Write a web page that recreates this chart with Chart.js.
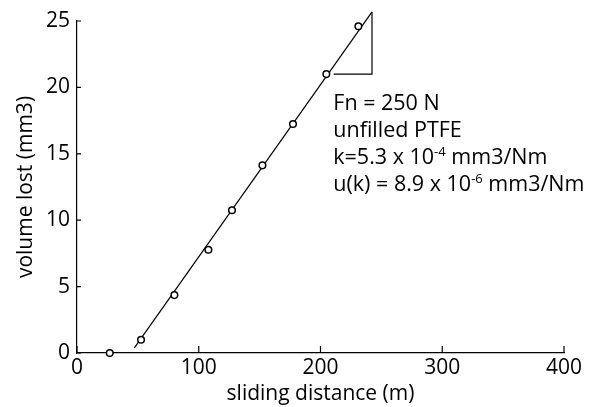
<!DOCTYPE html>
<html>
<head>
<meta charset="utf-8">
<script src="https://cdn.jsdelivr.net/npm/chart.js@4"></script>
<style>
html, body { margin: 0; padding: 0; background: #fff; }
#wrap { width: 606px; height: 407px; }
</style>
</head>
<body>
<div id="wrap"><canvas id="wearChart"></canvas></div>
<script>
// measured points (sliding distance m, volume lost mm3)
const distance = [26.9, 52.6, 80.0, 107.9, 127.3, 152.3, 177.4, 204.8, 231.1];
const volumeLost = [0.0, 1.0, 4.36, 7.77, 10.75, 14.13, 17.24, 21.0, 24.6];
// fitted line ends and slope triangle corners
const fitDistance = [47.1, 242.3];
const fitVolume = [0.38, 25.68];
const slopeDistance = [210.8, 242.3, 242.3];
const slopeVolume = [21.0, 21.0, 25.68];
const xTicks = [0, 100, 200, 300, 400];
const yTicks = [0, 5, 10, 15, 20, 25];
// annotation: [text, superscript?]
const noteLines = [
    [['Fn = 250 N', false]],
    [['unfilled PTFE', false]],
    [['k=5.3 x 10', false], ['-4', true], [' mm3/Nm', false]],
    [['u(k) = 8.9 x 10', false], ['-6', true], [' mm3/Nm', false]]
];
const noteAt = { x: 210.5, y: 18.3 };

const toPoints = (xs, ys) => xs.map((v, i) => ({ x: v, y: ys[i] }));

Chart.defaults.font.family = "'Open Sans', sans-serif";
Chart.defaults.color = '#000';

const innerTicks = {
    id: 'innerTicks',
    afterDraw(chart) {
        const { ctx, chartArea, scales: { x, y } } = chart;
        ctx.save();
        ctx.strokeStyle = '#000';
        ctx.lineWidth = 1.2;
        ctx.beginPath();
        xTicks.forEach(v => {
            const px = x.getPixelForValue(v);
            ctx.moveTo(px, chartArea.bottom);
            ctx.lineTo(px, chartArea.bottom - 7);
        });
        yTicks.forEach(v => {
            const py = y.getPixelForValue(v);
            ctx.moveTo(chartArea.left, py);
            ctx.lineTo(chartArea.left + 4, py);
        });
        ctx.stroke();

        // annotation text
        const big = "21.5px 'Open Sans', sans-serif";
        const small = "13px 'Open Sans', sans-serif";
        let baseY = y.getPixelForValue(noteAt.y);
        const startX = x.getPixelForValue(noteAt.x);
        ctx.fillStyle = '#000';
        ctx.textBaseline = 'alphabetic';
        ctx.textAlign = 'left';
        noteLines.forEach(line => {
            let cx = startX;
            line.forEach(([txt, sup]) => {
                ctx.font = sup ? small : big;
                ctx.fillText(txt, cx, sup ? baseY - 8 : baseY);
                cx += ctx.measureText(txt).width;
            });
            baseY += 27;
        });
        ctx.restore();
    }
};

new Chart(document.getElementById('wearChart'), {
    type: 'scatter',
    data: {
        datasets: [{
            label: 'measured',
            data: toPoints(distance, volumeLost),
            pointStyle: 'circle',
            pointRadius: 3.3,
            pointBorderWidth: 1.5,
            pointBackgroundColor: '#fff',
            pointBorderColor: '#000',
            showLine: false,
            clip: false
        }, {
            label: 'fit',
            data: toPoints(fitDistance, fitVolume),
            showLine: true,
            borderColor: '#000',
            borderWidth: 1.2,
            pointRadius: 0,
            clip: false
        }, {
            label: 'slope',
            data: toPoints(slopeDistance, slopeVolume),
            showLine: true,
            borderColor: '#000',
            borderWidth: 1.2,
            pointRadius: 0,
            clip: false
        }]
    },
    options: {
        responsive: true,
        maintainAspectRatio: false,
        animation: false,
        layout: { padding: { left: 0, right: 42, top: 21, bottom: 0 } },
        plugins: {
            legend: { display: false },
            tooltip: { enabled: false }
        },
        scales: {
            x: {
                type: 'linear',
                min: 0,
                max: 400,
                afterFit: s => { s.height = 54; },
                ticks: { stepSize: 100, padding: 2, font: { size: 21 }, color: '#000' },
                grid: { drawOnChartArea: false, drawTicks: false },
                border: { color: '#000', width: 1.2 },
                title: { display: true, text: 'sliding distance (m)', font: { size: 21 }, color: '#000', padding: { top: 0, bottom: 0 } }
            },
            y: {
                type: 'linear',
                min: 0,
                max: 25,
                afterFit: s => { s.width = 77; },
                ticks: { stepSize: 5, padding: 7, font: { size: 21 }, color: '#000' },
                grid: { drawOnChartArea: false, drawTicks: false },
                border: { color: '#000', width: 1.2 },
                title: { display: true, text: 'volume lost (mm3)', font: { size: 21 }, color: '#000', padding: { top: 13, bottom: 0 } }
            }
        }
    },
    plugins: [innerTicks]
});
</script>
</body>
</html>
